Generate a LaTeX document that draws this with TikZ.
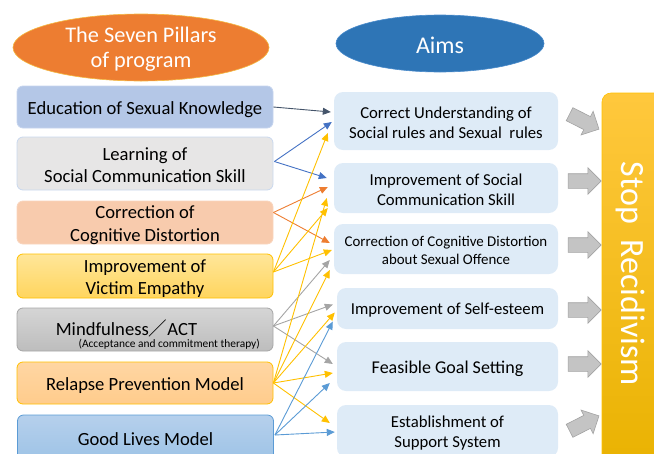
\documentclass[tikz,border=0pt]{standalone}
\usepackage{fontspec}
\setmainfont{Carlito}
\newfontfamily\cjk{Noto Sans CJK JP}
\usetikzlibrary{arrows.meta,shapes.geometric,shapes.arrows,calc}
\definecolor{orangeE}{HTML}{ED7D31}
\definecolor{orangeEdraw}{HTML}{F4B942}
\definecolor{blueE}{HTML}{2E75B6}
\definecolor{blueEdraw}{HTML}{4A8BCB}
\definecolor{edufill}{HTML}{B4C7E7}
\definecolor{edudraw}{HTML}{C5D4EE}
\definecolor{learnfill}{HTML}{E7E6E6}
\definecolor{learndraw}{HTML}{C9D8EE}
\definecolor{corrfill}{HTML}{F8CBAD}
\definecolor{corrdraw}{HTML}{F9D5BD}
\definecolor{victop}{HTML}{FFE699}
\definecolor{vicbot}{HTML}{FFD55E}
\definecolor{yeldraw}{HTML}{FFC000}
\definecolor{mindtop}{HTML}{D5D5D5}
\definecolor{mindbot}{HTML}{BDBDBD}
\definecolor{minddraw}{HTML}{A6A6A6}
\definecolor{reltop}{HTML}{FFD6A3}
\definecolor{relbot}{HTML}{FFCC8C}
\definecolor{goodtop}{HTML}{B6D0EC}
\definecolor{goodbot}{HTML}{9DC3E6}
\definecolor{gooddraw}{HTML}{5B9BD5}
\definecolor{aimfill}{HTML}{DEEBF7}
\definecolor{stoptop}{HTML}{FFC83D}
\definecolor{stopbot}{HTML}{E9B200}
\definecolor{barfill}{HTML}{C4C4C4}
\definecolor{bardraw}{HTML}{A3A3A3}
\definecolor{cEdu}{HTML}{44546A}
\definecolor{cLearn}{HTML}{4472C4}
\definecolor{cCorr}{HTML}{ED7D31}
\definecolor{cYel}{HTML}{FFC000}
\definecolor{cMind}{HTML}{A5A5A5}
\definecolor{cGood}{HTML}{5B9BD5}
\begin{document}
\begin{tikzpicture}[x=1pt,y=-1pt,
  pillar/.style={rectangle, rounded corners=6pt, minimum width=256pt, inner sep=0pt, line width=0.8pt},
  ptext/.style={align=center, inner sep=0pt, font=\fontsize{18.6}{22.5}\selectfont},
  aimbox/.style={rectangle, rounded corners=9pt, fill=aimfill, inner sep=0pt},
  atext/.style={align=center, inner sep=0pt, font=\fontsize{16.7}{20.4}\selectfont},
  conn/.style={line width=0.9pt, -{Triangle[length=8pt,width=7pt]}},
  blockarrow/.style={single arrow, fill=barfill, draw=bardraw, line width=0.6pt, minimum height=33pt, single arrow head extend=6pt, inner sep=0pt},
  headtext/.style={text=white, align=center, inner sep=0pt}
]
\useasboundingbox (0,0) rectangle (654,453);
\clip (0,0) rectangle (654,453);

% headers
\node[ellipse, fill=orangeE, draw=orangeEdraw, line width=0.6pt, minimum width=256pt, minimum height=67pt, inner sep=0pt] (pillars) at (141,47.5) {};
\node[headtext, font=\fontsize{22.3}{25.5}\selectfont] (pillarstxt) at (141,49) {The Seven Pillars\\of program};
\node[ellipse, fill=blueE, draw=blueEdraw, line width=0.6pt, minimum width=208pt, minimum height=57pt, inner sep=0pt] (aims) at (440,43.5) {};
\node[headtext, font=\fontsize{24}{28}\selectfont, anchor=base] (aimstxt) at (440,53) {Aims};

% pillars
\node[pillar, fill=edufill, draw=edudraw, minimum height=42pt] (edu) at (145,107) {};
\node[ptext] (edut) at ($(edu.center)+(0,2.5)$) {Education of Sexual Knowledge};
\node[pillar, fill=learnfill, draw=learndraw, minimum height=53pt] (learn) at (145,163.5) {};
\node[ptext] (learnt) at ($(learn.center)+(0,1.5)$) {Learning of\\Social Communication Skill};
\node[pillar, fill=corrfill, draw=corrdraw, minimum height=43pt] (corr) at (145,222.5) {};
\node[ptext] (corrt) at ($(corr.center)+(0,2.5)$) {Correction of\\Cognitive Distortion};
\node[pillar, top color=victop, bottom color=vicbot, draw=yeldraw, minimum height=44pt] (vic) at (145,276) {};
\node[ptext] (vict) at ($(vic.center)+(0,2.5)$) {Improvement of\\Victim Empathy};
\node[pillar, top color=mindtop, bottom color=mindbot, draw=minddraw, minimum height=43pt] (mind) at (145,329.5) {};
\node[font=\fontsize{18.6}{22}\selectfont, anchor=base, inner sep=0pt] (mindtxt) at (126.5,335.2) {Mindfulness{\cjk ／}ACT};
\node[font=\fontsize{11.4}{13}\selectfont, anchor=base east, inner sep=0pt] (mindsub) at (260,347.6) {(Acceptance and commitment therapy)};
\node[pillar, top color=reltop, bottom color=relbot, draw=yeldraw, minimum height=42pt] (rel) at (145,383) {};
\node[ptext] (relt) at ($(rel.center)+(0,2.5)$) {Relapse Prevention Model};
\node[pillar, top color=goodtop, bottom color=goodbot, draw=gooddraw, minimum height=46pt] (good) at (145.5,438) {};
\node[ptext] (goodt) at ($(good.center)+(0,1.5)$) {Good Lives Model};

% aims
\node[aimbox, minimum width=224pt, minimum height=58pt] (aim1) at (446,121) {};
\node[atext] (aim1t) at ($(aim1.center)+(0,2)$) {Correct Understanding of\\Social rules and Sexual~ rules};
\node[aimbox, minimum width=224pt, minimum height=50pt] (aim2) at (446,188) {};
\node[atext] (aim2t) at ($(aim2.center)+(0,1.5)$) {Improvement of Social\\Communication Skill};
\node[aimbox, minimum width=224pt, minimum height=50pt] (aim3) at (446,249) {};
\node[atext, font=\fontsize{14.9}{18.2}\selectfont] (aim3t) at ($(aim3.center)+(0,1.5)$) {Correction of Cognitive Distortion\\about Sexual Offence};
\node[aimbox, minimum width=221pt, minimum height=41pt] (aim4) at (447.5,308.5) {};
\node[atext] (aim4t) at ($(aim4.center)+(0,2)$) {Improvement of Self-esteem};
\node[aimbox, minimum width=221pt, minimum height=49pt] (aim5) at (447.5,366.5) {};
\node[atext, font=\fontsize{18}{21}\selectfont] (aim5t) at ($(aim5.center)+(0,2)$) {Feasible Goal Setting};
\node[aimbox, minimum width=221pt, minimum height=52pt] (aim6) at (447.5,431) {};
\node[atext] (aim6t) at ($(aim6.center)+(0,2)$) {Establishment of\\Support System};

% stop recidivism
\node[rectangle, rounded corners=9pt, top color=stoptop, bottom color=stopbot, draw=yeldraw, line width=0.6pt, minimum width=80pt, minimum height=380pt, inner sep=0pt] (stop) at (642,283) {};
\node[rotate=-90, text=white, font=\fontsize{34}{40}\selectfont, inner sep=0pt] (stoptxt) at (631,274) {Stop\ \ Recidivism};

% block arrows
\node[blockarrow, rotate=-27] (b1) at (581,120) {\rule{0pt}{14pt}};
\node[blockarrow] (b2) at (581,181) {\rule{0pt}{14pt}};
\node[blockarrow] (b3) at (581,245) {\rule{0pt}{14pt}};
\node[blockarrow] (b4) at (581,310) {\rule{0pt}{14pt}};
\node[blockarrow] (b5) at (581,364) {\rule{0pt}{14pt}};
\node[blockarrow, rotate=27] (b6) at (581,425) {\rule{0pt}{14pt}};

% connector source points
\coordinate (sEdu) at (edu.east);
\coordinate (sLearn) at ($(learn.east)+(1,-2)$);
\coordinate (sCorr) at ($(corr.east)+(0,-10)$);
\coordinate (sVic) at ($(vic.east)+(0,-4)$);
\coordinate (sMind) at ($(mind.east)+(0,-3.5)$);
\coordinate (sRel) at (rel.east);
\coordinate (sGood) at ($(good.east)+(1,-3)$);

% connectors
\draw[conn, cEdu] (sEdu) -- ($(aim1.west)+(-3,-9)$);
\draw[conn, cLearn] (sLearn) -- ($(aim1.west)+(-2,1)$);
\draw[conn, cLearn] (sLearn) -- ($(aim2.west)+(-7,-10)$);
\draw[conn, cCorr] (sCorr) -- ($(aim2.west)+(-6,-1)$);
\draw[conn, cCorr] (sCorr) -- ($(aim3.west)+(-4,-6)$);
\draw[conn, cYel] (sVic) -- ($(aim1.west)+(-6,12)$);
\draw[conn, cYel] (sVic) -- ($(aim2.west)+(-6,20)$);
\draw[conn, cYel] (sVic) -- ($(aim3.west)+(-2,1)$);
\draw[conn, cMind] (sMind) -- ($(aim3.west)+(-4,11)$);
\draw[conn, cMind] (sMind) -- ($(aim4.west)+(-4,-4)$);
\draw[conn, cMind] (sMind) -- ($(aim5.west)+(-4,-2.5)$);
\draw[conn, cYel] (sRel) -- ($(aim2.west)+(-7,10)$);
\draw[conn, cYel] (sRel) -- ($(aim3.west)+(-4,21)$);
\draw[conn, cYel] (sRel) -- ($(aim4.west)+(-2,4)$);
\draw[conn, cYel] (sRel) -- ($(aim5.west)+(-4,6.5)$);
\draw[conn, cYel] (sRel) -- ($(aim6.west)+(-7,-8)$);
\draw[conn, cGood] (sGood) -- ($(aim4.west)+(-4,13)$);
\draw[conn, cGood] (sGood) -- ($(aim5.west)+(-7,16.5)$);
\draw[conn, cGood] (sGood) -- ($(aim6.west)+(-2,1)$);
\end{tikzpicture}
\end{document}
